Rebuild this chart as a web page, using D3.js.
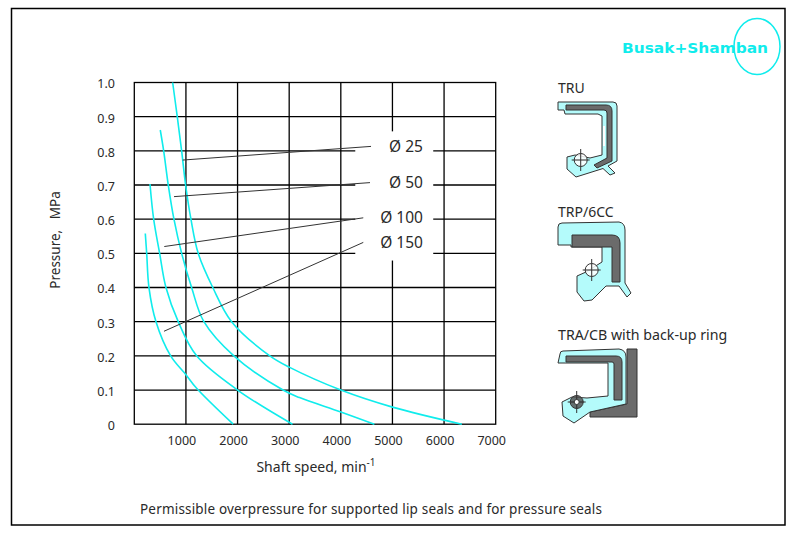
<!DOCTYPE html>
<html>
<head>
<meta charset="utf-8">
<script src="https://cdn.jsdelivr.net/npm/d3@7"></script>
<style>
  body { margin: 0; background: #fff; }
  text { font-family: "Noto Sans", "DejaVu Sans", sans-serif; fill: #2a2a2a; }
</style>
</head>
<body>
<script>
// shaft speed (min^-1) / pressure (MPa), one pair of arrays per shaft diameter
var seriesNames = ["Ø 25", "Ø 50", "Ø 100", "Ø 150"];
var speed25 = [743, 832, 917, 994, 1097, 1238, 1520, 1884, 2625, 3000, 4000, 5000, 6344];
var press25 = [1.0, 0.9, 0.8, 0.7, 0.6, 0.5, 0.4, 0.3, 0.2, 0.167, 0.1, 0.05, 0];
var speed50 = [503, 569, 658, 768, 917, 1110, 1348, 1928, 2880, 3200, 4000, 4650];
var press50 = [0.861, 0.8, 0.7, 0.6, 0.5, 0.4, 0.3, 0.2, 0.1, 0.078, 0.036, 0];
var speed100 = [304, 375, 491, 613, 851, 1207, 2000, 3064];
var press100 = [0.703, 0.6, 0.5, 0.4, 0.3, 0.2, 0.1, 0];
var speed150 = [213, 240, 284, 420, 704, 1000, 1207, 1915];
var press150 = [0.558, 0.5, 0.4, 0.3, 0.2, 0.145, 0.105, 0];

var xTicks = [1000, 2000, 3000, 4000, 5000, 6000, 7000];
var yTicks = [0, 0.1, 0.2, 0.3, 0.4, 0.5, 0.6, 0.7, 0.8, 0.9, 1.0];
var yTickLabels = ["0", "0.1", "0.2", "0.3", "0.4", "0.5", "0.6", "0.7", "0.8", "0.9", "1.0"];

// leader lines: from near the curve to the label (data units)
var leadFromX = [937, 769, 581, 575];
var leadFromY = [0.773, 0.666, 0.52, 0.272];
var leadToX = [4585, 4565, 4435, 4435];
var leadToY = [0.813, 0.707, 0.604, 0.532];

var W = 798, H = 537;
var svg = d3.select("body").append("svg").attr("width", W).attr("height", H);

svg.append("rect").attr("x", 11.5).attr("y", 8.5).attr("width", 773.5).attr("height", 516.5)
  .attr("fill", "#fff").attr("stroke", "#000").attr("stroke-width", 1.5);

var x = d3.scaleLinear().domain([0, 7000]).range([134.3, 495.7]);
var y = d3.scaleLinear().domain([0, 1]).range([424.2, 82.5]);

var g = svg.append("g");

// grid
g.selectAll("line.vx").data(xTicks.slice(0, -1)).enter().append("line")
  .attr("x1", function(d) { return x(d); }).attr("x2", function(d) { return x(d); })
  .attr("y1", y(0)).attr("y2", y(1))
  .attr("stroke", "#000").attr("stroke-width", 1.3);
g.selectAll("line.hy").data(yTicks.slice(1, -1)).enter().append("line")
  .attr("y1", function(d) { return y(d); }).attr("y2", function(d) { return y(d); })
  .attr("x1", x(0)).attr("x2", x(7000))
  .attr("stroke", "#000").attr("stroke-width", 1.3);

// white box behind the diameter labels
g.append("rect").attr("x", x(4280)).attr("y", y(0.857))
  .attr("width", x(5790) - x(4280)).attr("height", y(0.479) - y(0.857))
  .attr("fill", "#fff");

g.append("rect").attr("x", x(0)).attr("y", y(1)).attr("width", x(7000) - x(0)).attr("height", y(0) - y(1))
  .attr("fill", "none").attr("stroke", "#000").attr("stroke-width", 1.3);

// curves
var curves = [
  d3.zip(speed25, press25),
  d3.zip(speed50, press50),
  d3.zip(speed100, press100),
  d3.zip(speed150, press150)
];
var line = d3.line().x(function(d) { return x(d[0]); }).y(function(d) { return y(d[1]); })
  .curve(d3.curveCatmullRom.alpha(0.5));
g.selectAll("path.curve").data(curves).enter().append("path")
  .attr("d", line).attr("fill", "none").attr("stroke", "#10ecec").attr("stroke-width", 1.6);

// leader lines and labels
g.selectAll("line.lead").data(seriesNames).enter().append("line")
  .attr("x1", function(d, i) { return x(leadFromX[i]); })
  .attr("y1", function(d, i) { return y(leadFromY[i]); })
  .attr("x2", function(d, i) { return x(leadToX[i]); })
  .attr("y2", function(d, i) { return y(leadToY[i]); })
  .attr("stroke", "#333").attr("stroke-width", 1);
g.selectAll("text.lab").data(seriesNames).enter().append("text")
  .attr("x", x(5590)).attr("y", function(d, i) { return y(leadToY[i]); })
  .attr("dy", "0.36em").attr("text-anchor", "end").attr("font-size", 15.5)
  .text(function(d) { return d; });

// tick labels
g.selectAll("text.xt").data(xTicks).enter().append("text")
  .attr("x", function(d) { return x(d) - 4; }).attr("y", 441).attr("dy", "0.35em")
  .attr("text-anchor", "middle").attr("font-size", 12.5)
  .text(function(d) { return d; });
g.selectAll("text.yt").data(yTicks).enter().append("text")
  .attr("x", 115).attr("y", function(d) { return y(d) + 1.5; }).attr("dy", "0.35em")
  .attr("text-anchor", "end").attr("font-size", 12.5)
  .text(function(d, i) { return yTickLabels[i]; });

// axis titles
var xt = svg.append("text").attr("x", 316).attr("y", 472).attr("text-anchor", "middle").attr("font-size", 14);
xt.append("tspan").text("Shaft speed, min");
xt.append("tspan").attr("dy", -6).attr("font-size", 10).text("-1");
svg.append("text").attr("transform", "translate(60,240) rotate(-90)")
  .attr("text-anchor", "middle").attr("font-size", 13.5).attr("xml:space", "preserve")
  .text("Pressure,   MPa");

svg.append("text").attr("x", 140).attr("y", 514).attr("font-size", 13.5)
  .attr("textLength", 462).attr("lengthAdjust", "spacing")
  .text("Permissible overpressure for supported lip seals and for pressure seals");

// logo
svg.append("ellipse").attr("cx", 757).attr("cy", 46.5).attr("rx", 23).attr("ry", 28)
  .attr("fill", "none").attr("stroke", "#10ecec").attr("stroke-width", 1.5);
svg.append("text").attr("x", 622).attr("y", 53).attr("font-size", 14).attr("font-weight", "bold")
  .attr("textLength", 146).attr("lengthAdjust", "spacingAndGlyphs")
  .style("fill", "#10ecec").style("font-family", "'DejaVu Sans', sans-serif")
  .text("Busak+Shamban");

// seal profiles
var sealFill = "#b4fbfb", insert = "#6b6b6b", edge = "#333";
var seals = svg.append("g").attr("stroke", edge).attr("stroke-width", 1);

function spring(cx, cy, fill) {
  seals.append("line").attr("x1", cx).attr("x2", cx).attr("y1", cy - 11).attr("y2", cy + 11);
  seals.append("line").attr("x1", cx - 9).attr("x2", cx + 9).attr("y1", cy).attr("y2", cy);
  seals.append("circle").attr("cx", cx).attr("cy", cy).attr("r", 6.5).attr("fill", fill).attr("fill-opacity", 0.85);
  seals.append("line").attr("x1", cx).attr("x2", cx).attr("y1", cy - 6.5).attr("y2", cy + 6.5);
  seals.append("line").attr("x1", cx - 6.5).attr("x2", cx + 6.5).attr("y1", cy).attr("y2", cy);
}

svg.append("text").attr("x", 558).attr("y", 93).attr("font-size", 14).text("TRU");
seals.append("path").attr("fill", sealFill)
  .attr("d", "M558,102 L613,102 Q617,102 617,106 L617,161 L608,166 L615,173 L610,175 L603,168.5 L576,177 L567,169 L567,157 L575,155 L590,158 L602,155 L602,116 L598,114 L565,114 L564,110 L558,110 Z");
seals.append("path").attr("fill", insert)
  .attr("d", "M566,105 L606,105 Q612,105 612,111 L612,161 L597,168 L594,165 L607,158 L607,113 Q607,110 604,110 L566,110 Z");
seals.append("line").attr("x1", 604).attr("x2", 604).attr("y1", 126).attr("y2", 146).attr("stroke", "#fff").attr("stroke-width", 2);
spring(580.7, 160, "#fff");

svg.append("text").attr("x", 558).attr("y", 217).attr("font-size", 14).text("TRP/6CC");
seals.append("path").attr("fill", sealFill)
  .attr("d", "M558,227 Q558,223 562,223 L619,222 Q625,223 625,230 L625,283 L631,293 L627,297 L619,286 L606,286 L592,300 L584,301 L577,292 L577,276 L586,272 L602,262 L602,247 L571,247 L571,245 L558,245 Z");
seals.append("path").attr("fill", insert)
  .attr("d", "M572,235 L612,235 Q620,235 620,243 L620,282 L612,282 L612,247 L572,247 Z");
spring(591.7, 270, "#fff");

svg.append("text").attr("x", 558).attr("y", 340).attr("font-size", 14.2).text("TRA/CB with back-up ring");
seals.append("path").attr("fill", insert)
  .attr("d", "M627,349 L637,349 L637,417 L590,417 L590,412 L627,404 Z");
seals.append("path").attr("fill", sealFill)
  .attr("d", "M560,354 Q560,351 563,351 L619,349 Q626,350 626,357 L626,404 L590,412 L574,423 L563,416 L562,402 L572,397 L587,398 L608,396 L608,363 L558,363 Z");
seals.append("path").attr("fill", insert)
  .attr("d", "M566,356 L616,356 Q622,356 622,362 L622,400 L614,400 L614,364 Q614,362 612,362 L566,362 Z");
spring(576.7, 402, "#555");
seals.append("circle").attr("cx", 576.7).attr("cy", 402).attr("r", 2.5).attr("fill", "#fff");
</script>
</body>
</html>
